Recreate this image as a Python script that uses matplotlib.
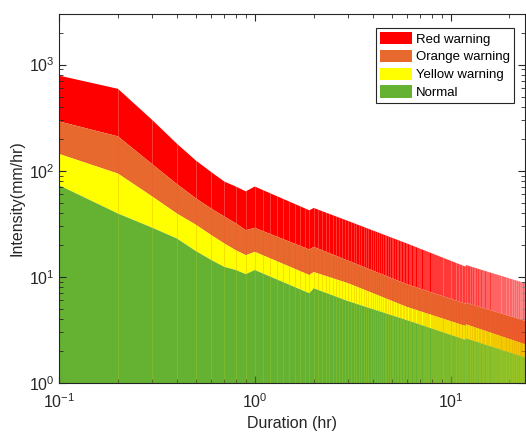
import numpy as np
import matplotlib
matplotlib.use("Agg")
import matplotlib.pyplot as plt

# Rainfall warning thresholds: intensity (mm/hr) against storm duration (hr)
duration = [0.1, 0.2, 0.3, 0.4, 0.5, 0.6, 0.7, 0.8, 0.9, 1.0, 1.9, 2.0, 3.0, 6.0, 11.9, 12.0, 24.0]
red_top = [789, 592, 300, 180, 125, 97, 79, 71, 64, 71, 42.4, 44.6, 33.6, 20.6, 12.5, 12.9, 8.7]
orange_top = [292, 211, 115, 75, 55, 44, 37, 32, 27.5, 29, 18.1, 19.2, 14.2, 8.5, 5.6, 5.7, 3.85]
yellow_top = [144, 94, 57, 39.5, 31, 24.7, 20.6, 17.8, 16, 17.2, 10.4, 11.1, 8.7, 5.2, 3.45, 3.57, 2.32]
green_top = [73, 39.5, 29, 23, 17.5, 14.4, 12.4, 11.6, 10.6, 11.6, 7.0, 7.8, 5.9, 3.9, 2.55, 2.63, 1.74]

labels = ["Red warning", "Orange warning", "Yellow warning", "Normal"]
colors = ["#ff0000", "#e8692e", "#ffff00", "#65b233"]
# thin seams between the 0.1 hr patches
seam_colors = ["#ffffff", "#f05028", "#e89a00", "#b0cc20"]
seam_alpha = [0.32, 0.35, 0.45, 0.45]

plt.rcParams["font.family"] = ["Liberation Sans", "DejaVu Sans"]
plt.rcParams["mathtext.fontset"] = "custom"
plt.rcParams["mathtext.rm"] = "Liberation Sans"

fig = plt.figure(figsize=(5.26, 4.32), dpi=100)
ax = fig.add_axes([59 / 526, 1 - 383 / 432, 466 / 526, 369 / 432])
ax.set_xscale("log")
ax.set_yscale("log")
ax.set_xlim(0.1, 24)
ax.set_ylim(1, 3000)

ones = np.ones(len(duration))
bands = [(orange_top, red_top), (yellow_top, orange_top), (green_top, yellow_top), (ones, green_top)]
seam_x = np.round(np.arange(0.2, 24.0, 0.1), 1)

for (lo, hi), c, sc, sa, lab in zip(bands, colors, seam_colors, seam_alpha, labels):
    poly = ax.fill_between(duration, lo, hi, facecolor=c, edgecolor="none", label=lab)
    seams = ax.vlines(seam_x, 1, 3000, colors=sc, linewidth=0.5, alpha=sa)
    seams.set_clip_path(poly.get_paths()[0], transform=ax.transData)

ax.tick_params(which="both", direction="in", top=True, right=True, colors="#262626", labelsize=11.5)
ax.tick_params(which="major", length=5)
ax.tick_params(which="minor", length=3)
ax.tick_params(axis="x", which="both", pad=7)
ax.tick_params(axis="y", which="both", pad=3)
for s in ax.spines.values():
    s.set_color("#262626")
    s.set_linewidth(0.8)

ax.set_xlabel("Duration (hr)", fontsize=11.5, color="#262626", labelpad=3)
ax.set_ylabel("Intensity(mm/hr)", fontsize=11.5, color="#262626", labelpad=3)

leg = ax.legend(loc="upper left", bbox_to_anchor=(376 / 526, 1 - 28 / 432), bbox_transform=fig.transFigure,
                fontsize=9.5, fancybox=False, framealpha=1, edgecolor="#262626",
                handlelength=2.45, handleheight=1.05, labelspacing=0.32, handletextpad=0.3,
                borderpad=0.3, borderaxespad=0)
leg.get_frame().set_linewidth(0.8)

fig.savefig("out.png", dpi=100)
